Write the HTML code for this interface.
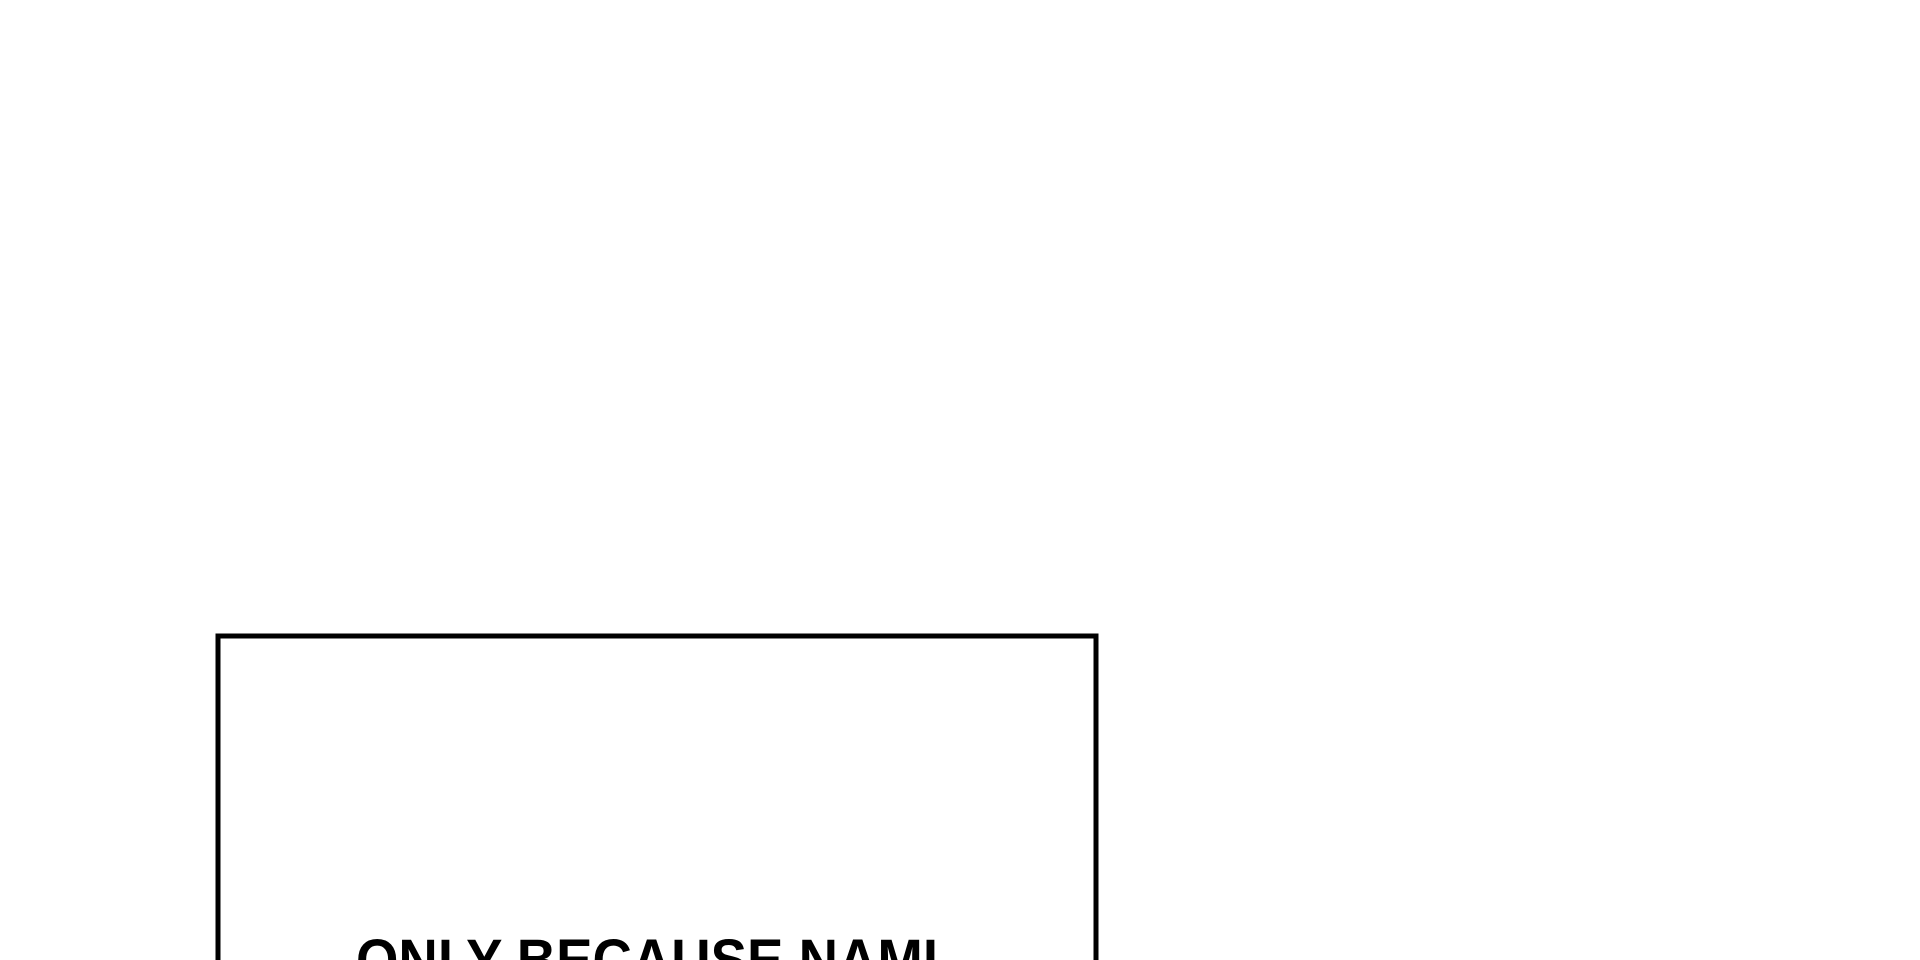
<!DOCTYPE html>
<html><head><meta charset="utf-8"><style>
html,body{margin:0;padding:0;background:#fff;width:1920px;height:960px;overflow:hidden}
svg{display:block}
</style></head><body>
<svg width="1920" height="960" viewBox="0 0 1920 960" xmlns="http://www.w3.org/2000/svg">
<rect x="0" y="0" width="1920" height="960" fill="#fff"/>
<rect x="218" y="636" width="878" height="340" fill="none" stroke="#000" stroke-width="5"/>
<text x="356" y="980" font-family="Liberation Sans, sans-serif" font-weight="bold" font-size="58" textLength="582" lengthAdjust="spacingAndGlyphs" fill="#000">ONLY BECAUSE NAMI</text>
</svg>
</body></html>
